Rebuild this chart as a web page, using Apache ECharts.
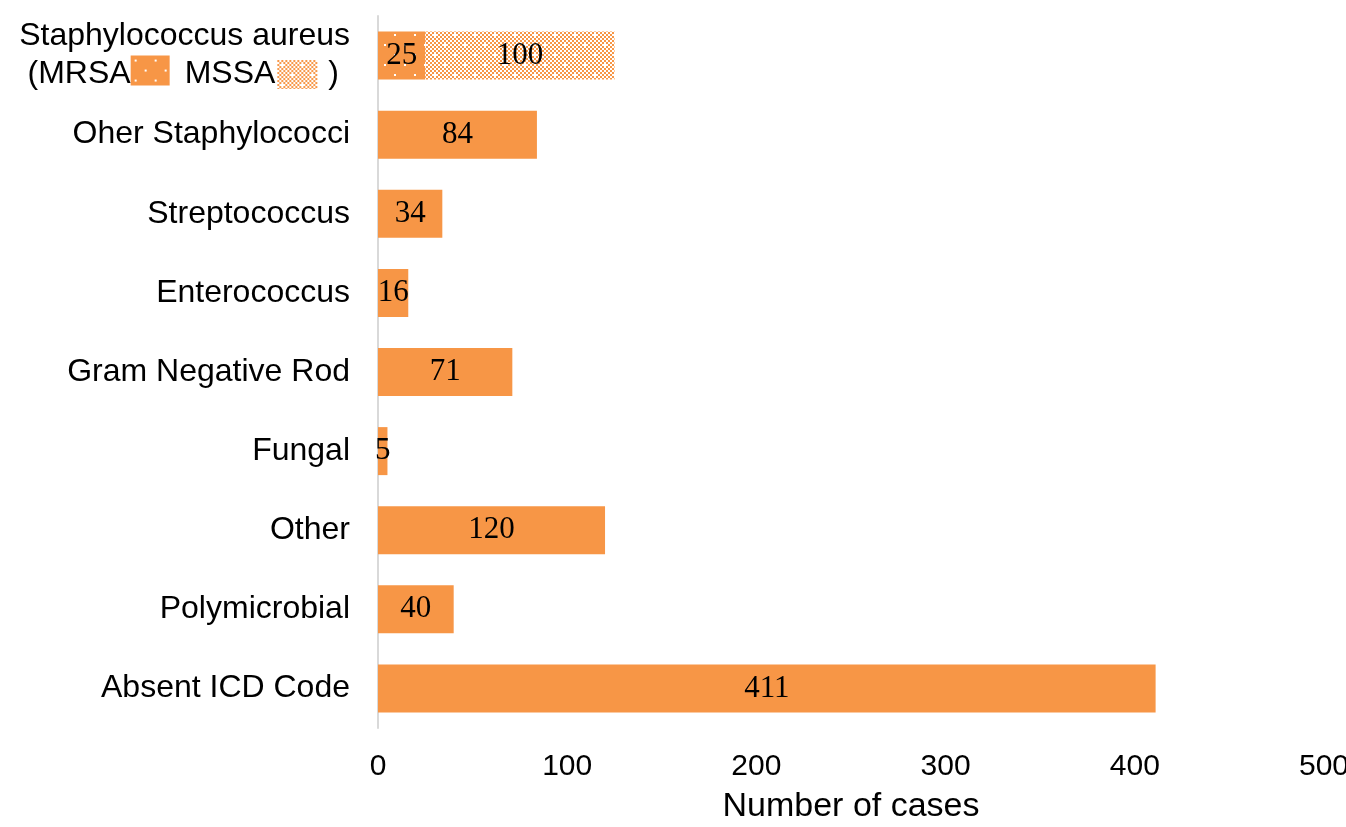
<!DOCTYPE html>
<html>
<head>
<meta charset="utf-8">
<script src="https://cdn.jsdelivr.net/npm/echarts@6/dist/echarts.min.js"></script>
<style>html,body{margin:0;padding:0;background:#fff;}#chart{width:1346px;height:827px;}</style>
</head>
<body>
<div id="chart"></div>
<script>
// ---- data ----
const categories = ['Staphylococcus aureus', 'Oher Staphylococci', 'Streptococcus', 'Enterococcus', 'Gram Negative Rod', 'Fungal', 'Other', 'Polymicrobial', 'Absent ICD Code'];
const primaryValues = [25, 84, 34, 16, 71, 5, 120, 40, 411];   // MRSA for S. aureus, totals otherwise
const mssaValues = [100, null, null, null, null, null, null, null, null];
const xTicks = [0, 100, 200, 300, 400, 500];
const xAxisTitle = 'Number of cases';

// ---- styles ----
const ORANGE = '#F79646';
function mrsaCanvas(w, h) {
  const c = document.createElement('canvas'); c.width = w; c.height = h;
  const g = c.getContext('2d');
  g.fillStyle = ORANGE; g.fillRect(0, 0, w, h);
  g.fillStyle = '#fff';
  for (let y = 0; y < h; y += 20) for (let x = 0; x < w; x += 20) {
    g.fillRect(x + 4, y + 4, 2, 2);
    g.fillRect(x + 14, y + 14, 2, 2);
  }
  return c;
}
function mssaCanvas(w, h) {
  const c = document.createElement('canvas'); c.width = w; c.height = h;
  const g = c.getContext('2d');
  g.fillStyle = '#fff'; g.fillRect(0, 0, w, h);
  g.fillStyle = ORANGE;
  for (let y = 0; y < h; y += 2) for (let x = 0; x < w; x += 2) {
    if (((x + y) / 2) % 2 === 0) g.fillRect(x, y, 2, 2);
  }
  g.fillStyle = '#fff';
  for (let y = 0; y < h; y += 20) for (let x = 0; x < w; x += 20) {
    g.fillRect(x + 4, y + 4, 2, 2);
    g.fillRect(x + 14, y + 14, 2, 2);
  }
  return c;
}
const mrsaPattern = { image: mrsaCanvas(40, 40), repeat: 'repeat' };
const mssaPattern = { image: mssaCanvas(40, 40), repeat: 'repeat' };
const mrsaSwatch = mrsaCanvas(39, 30).toDataURL();
const mssaSwatch = mssaCanvas(40, 29).toDataURL();

const primaryData = primaryValues.map((v, i) => i === 0 ? { value: v, itemStyle: { color: mrsaPattern } } : v);

const labelFont = { fontFamily: 'Liberation Sans, Arial, sans-serif', fontSize: 32, color: '#000' };
const valueLabel = { show: true, position: 'inside', fontFamily: 'Liberation Serif, Times New Roman, serif', fontSize: 31, color: '#000' };

const chart = echarts.init(document.getElementById('chart'), null, { renderer: 'canvas' });
chart.setOption({
  animation: false,
  backgroundColor: '#fff',
  grid: { left: 378, right: 22, top: 16, bottom: 99, containLabel: false, outerBoundsMode: 'none' },
  xAxis: {
    type: 'value', min: 0, max: 500, interval: 100,
    axisLine: { show: false }, axisTick: { show: false }, splitLine: { show: false },
    axisLabel: { margin: 24, fontFamily: 'Liberation Sans, Arial, sans-serif', fontSize: 30, color: '#000',
      formatter: v => xTicks.includes(v) ? String(v) : '' },
    name: xAxisTitle, nameLocation: 'middle', nameGap: 62,
    nameTextStyle: { fontFamily: 'Liberation Sans, Arial, sans-serif', fontSize: 34, color: '#000' }
  },
  yAxis: {
    type: 'category', data: categories, inverse: true,
    axisLine: { show: true, lineStyle: { color: '#D9D9D9', width: 2 } },
    axisTick: { show: false }, splitLine: { show: false },
    axisLabel: Object.assign({}, labelFont, {
      margin: 28, interval: 0,
      formatter: (v, i) => i === 0
        ? '{t|Staphylococcus aureus}\n{t|(MRSA}{m| }{g1| }{t|MSSA}{g2| }{s| }{g3| }{t|)}{g4| }'
        : v,
      rich: {
        t: Object.assign({}, labelFont, { lineHeight: 38 }),
        m: { width: 39, height: 30, lineHeight: 38, verticalAlign: 'top', backgroundColor: { image: mrsaSwatch } },
        s: { width: 40, height: 29, lineHeight: 38, verticalAlign: 'middle', backgroundColor: { image: mssaSwatch } },
        g1: { width: 15, lineHeight: 38 },
        g2: { width: 2, lineHeight: 38 },
        g3: { width: 11, lineHeight: 38 },
        g4: { width: 11, lineHeight: 38 }
      }
    })
  },
  series: [
    { name: 'Primary', type: 'bar', stack: 'total', barWidth: 48, data: primaryData,
      itemStyle: { color: ORANGE }, label: valueLabel },
    { name: 'MSSA', type: 'bar', stack: 'total', barWidth: 48, data: mssaValues,
      itemStyle: { color: mssaPattern }, label: valueLabel }
  ]
});
</script>
</body>
</html>
